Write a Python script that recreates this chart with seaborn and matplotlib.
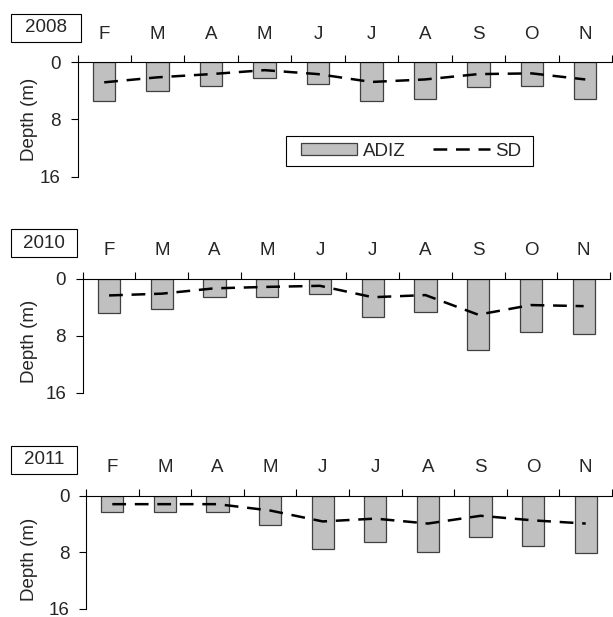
import matplotlib
matplotlib.use("Agg")
import matplotlib.pyplot as plt
import seaborn as sns
import pandas as pd
import numpy as np
from matplotlib.patches import Rectangle, Patch
from matplotlib.lines import Line2D

# ---------------- data ----------------
months = ["Feb", "Mar", "Apr", "May", "Jun", "Jul", "Aug", "Sep", "Oct", "Nov"]
month_labels = ["F", "M", "A", "M", "J", "J", "A", "S", "O", "N"]
years = ["2008", "2010", "2011"]

adiz_2008 = [5.4, 4.0, 3.3, 2.2, 3.1, 5.4, 5.1, 3.4, 3.3, 5.1]
sd_2008 = [2.8, 2.1, 1.65, 1.1, 1.65, 2.75, 2.4, 1.65, 1.55, 2.4]

adiz_2010 = [4.8, 4.25, 2.6, 2.5, 2.15, 5.4, 4.7, 10.0, 7.45, 7.7]
sd_2010 = [2.35, 2.1, 1.35, 1.15, 1.0, 2.6, 2.3, 5.05, 3.7, 3.85]

adiz_2011 = [2.25, 2.25, 2.25, 4.2, 7.5, 6.5, 8.0, 5.9, 7.2, 8.1]
sd_2011 = [1.2, 1.2, 1.2, 2.1, 3.65, 3.25, 3.95, 2.85, 3.5, 3.95]

y_ticks = [0, 8, 16]
y_label = "Depth (m)"
legend_labels = ["ADIZ", "SD"]

# ---------------- style ----------------
sns.set_style("white")
plt.rcParams["font.family"] = ["Liberation Sans", "DejaVu Sans"]
FS = 13.5
BAR_FC = "#c0c0c0"
BAR_EC = "#404040"

W, H = 613, 617
fig = plt.figure(figsize=(W / 100, H / 100), dpi=100)

# panel geometry in pixels: left, right, top, bottom
panels = [
    (77.5, 612, 62.3, 176.7),
    (82.7, 610, 278.7, 392.7),
    (86, 612, 495.7, 608.5),
]
boxes = [(11, 81, 14, 42), (11, 77, 229, 257), (11, 77, 446, 474)]
ylabel_y = [119, 341, 559]

series = [(adiz_2008, sd_2008), (adiz_2010, sd_2010), (adiz_2011, sd_2011)]
legend_ax = None
leg = None

for i, ((l, r, t, b), (adiz, sd)) in enumerate(zip(panels, series)):
    ax = fig.add_axes([l / W, 1 - b / H, (r - l) / W, (b - t) / H])
    df = pd.DataFrame({"month": months, "pos": np.arange(len(months)),
                       "adiz": adiz, "sd": sd})
    sns.barplot(data=df, x="month", y="adiz", order=months, ax=ax,
                color=BAR_FC, saturation=1, width=0.42,
                edgecolor=BAR_EC, linewidth=0.9, errorbar=None)
    sns.lineplot(data=df, x="pos", y="sd", ax=ax, color="black",
                 linewidth=1.8, dashes=False)
    for ln in ax.lines:
        ln.set_dashes([5.5, 3.5])
        ln.set_dash_capstyle("butt")

    ax.set_xlim(-0.5, len(months) - 0.5)
    ax.set_ylim(16, 0)
    ax.set_yticks(y_ticks)
    ax.set_yticklabels([str(v) for v in y_ticks], fontsize=FS)
    ax.xaxis.tick_top()
    ax.set_xticks(np.arange(len(months)))
    ax.set_xticklabels(month_labels, fontsize=FS)
    ax.set_xticks(np.arange(len(months) + 1) - 0.5, minor=True)
    ax.tick_params(axis="x", which="major", length=0, pad=14, top=True,
                   bottom=False, labeltop=True, labelbottom=False)
    ax.tick_params(axis="x", which="minor", length=5, width=0.8,
                   direction="out", top=True, bottom=False, color="black")
    ax.tick_params(axis="y", length=5, width=0.8, direction="out",
                   pad=7, left=True, color="black")
    for side in ["right", "bottom"]:
        ax.spines[side].set_visible(False)
    for side in ["left", "top"]:
        ax.spines[side].set_color("black")
        ax.spines[side].set_linewidth(0.8)
    ax.set_xlabel("")
    ax.set_ylabel(y_label, fontsize=FS)
    ax.yaxis.set_label_coords(29 / W, 1 - ylabel_y[i] / H,
                              transform=fig.transFigure)
    ax.yaxis.label.set_va("center")
    ax.set_facecolor("none")

    # year box
    bx0, bx1, by0, by1 = boxes[i]
    fig.patches.append(Rectangle((bx0 / W, 1 - by1 / H), (bx1 - bx0) / W,
                                 (by1 - by0) / H, transform=fig.transFigure,
                                 facecolor="white", edgecolor="black",
                                 linewidth=0.8, figure=fig))
    fig.text((bx0 + bx1) / 2 / W, 1 - (by0 + by1) / 2 / H, years[i],
             ha="center", va="center", fontsize=FS)

    if i == 0:
        handles = [
            Patch(facecolor=BAR_FC, edgecolor=BAR_EC, linewidth=0.9),
            Line2D([], [], color="black", linewidth=1.8,
                   dashes=[5.5, 3.5]),
        ]
        ax_w = r - l
        ax_h = b - t
        leg = ax.legend(handles, legend_labels, ncol=2, loc="center left",
                        bbox_to_anchor=((300.7 - l) / ax_w,
                                        1 - (151 - t) / ax_h),
                        fontsize=FS, frameon=False, borderpad=0,
                        handlelength=3.0, handleheight=0.55,
                        handletextpad=0.3, columnspacing=1.5,
                        borderaxespad=0)
        leg.set_zorder(10)
        legend_ax = ax
        legend_geom = (l, r, t, b)

# legend frame: wider horizontal padding than vertical, as in the reference
fig.canvas.draw()
bb = leg.get_window_extent()
l, r, t, b = legend_geom
ax_w, ax_h = r - l, b - t
x0 = bb.x0 - 15
x1 = bb.x1 + 12
y_top_px, y_bot_px = 135.7, 166
frame = Rectangle(((x0 - l) / ax_w, 1 - (y_bot_px - t) / ax_h),
                  (x1 - x0) / ax_w, (y_bot_px - y_top_px) / ax_h,
                  transform=legend_ax.transAxes, facecolor="white",
                  edgecolor="black", linewidth=0.8, zorder=9,
                  clip_on=False)
legend_ax.add_patch(frame)

fig.savefig("out.png", dpi=100)
